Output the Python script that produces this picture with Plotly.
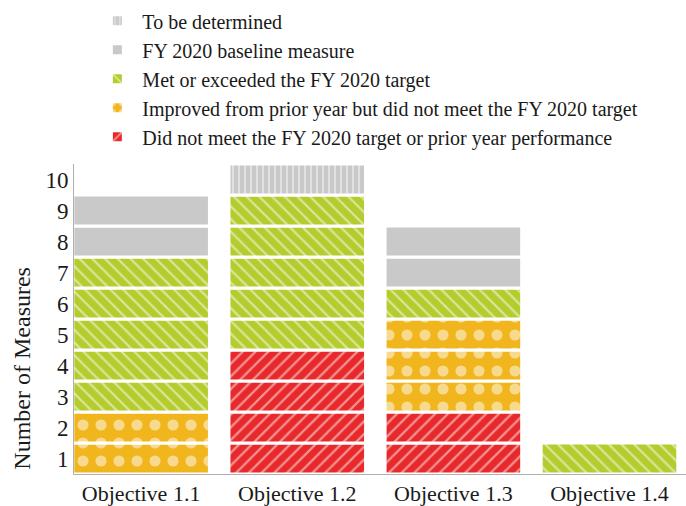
import plotly.graph_objects as go

objectives = ["Objective 1.1", "Objective 1.2", "Objective 1.3", "Objective 1.4"]

# number of measures per status (bottom-to-top stacking order)
not_met = [0, 4, 2, 0]
improved = [2, 0, 3, 0]
met = [5, 5, 1, 1]
baseline = [2, 0, 2, 0]
tbd = [0, 1, 0, 0]

y_tick_labels = ["1", "2", "3", "4", "5", "6", "7", "8", "9", "10"]

statuses = [
    ("Did not meet the FY 2020 target or prior year performance", not_met, "#e8292b", "/", 9, 0.25),
    ("Improved from prior year but did not meet the FY 2020 target", improved, "#f1b51d", ".", 18, 0.3),
    ("Met or exceeded the FY 2020 target", met, "#b4cc2e", "\\", 9, 0.25),
    ("FY 2020 baseline measure", baseline, "#c9c9c9", "", 8, 0.2),
    ("To be determined", tbd, "#c9c9c9", "|", 6, 0.3),
]

FONT = "Liberation Serif"
fig = go.Figure()
cum = [0] * len(objectives)
for rank, (name, counts, color, shape, size, solid) in enumerate(statuses):
    xs, bases, ys = [], [], []
    for i, c in enumerate(counts):
        for k in range(c):
            xs.append(objectives[i])
            bases.append(cum[i] + k)
            ys.append(1)
        cum[i] += c
    fig.add_trace(go.Bar(
        x=xs, y=ys, base=bases, name=name, width=0.875,
        legendgroup=name, legendrank=1000 - rank,
        marker=dict(
            color=color,
            line=dict(color="white", width=3),
            pattern=dict(shape=shape, fgcolor="white", size=size, solidity=solid),
        ),
        hoverinfo="skip",
    ))

fig.update_layout(
    width=686, height=506,
    margin=dict(l=74, r=0, t=164, b=30),
    barmode="overlay",
    plot_bgcolor="white", paper_bgcolor="white",
    font=dict(family=FONT, size=22, color="#1a1a1a"),
    showlegend=True,
    legend=dict(
        x=0.03, y=1.525, xanchor="left", yanchor="top",
        traceorder="grouped", tracegroupgap=0, itemwidth=40,
        font=dict(size=20, family=FONT, color="#1a1a1a"),
        bgcolor="rgba(0,0,0,0)",
    ),
    xaxis=dict(
        range=[-0.43, 3.49], showgrid=False, zeroline=False,
        categoryorder="array", categoryarray=objectives,
        showline=True, linecolor="#b0b0b0", linewidth=1,
        ticks="", tickfont=dict(size=22, family=FONT),
    ),
    yaxis=dict(
        range=[0, 10], showgrid=False, zeroline=False,
        showline=True, linecolor="#b0b0b0", linewidth=1,
        tickvals=[v - 0.5 for v in range(1, 11)], ticktext=y_tick_labels,
        ticks="", tickfont=dict(size=23, family=FONT),
    ),
    annotations=[dict(
        text="Number of Measures", textangle=-90,
        xref="paper", yref="paper", x=-0.085, y=0.343,
        xanchor="center", yanchor="middle", showarrow=False,
        font=dict(size=24, family=FONT, color="#1a1a1a"),
    )],
)

fig.write_html("out.html")
